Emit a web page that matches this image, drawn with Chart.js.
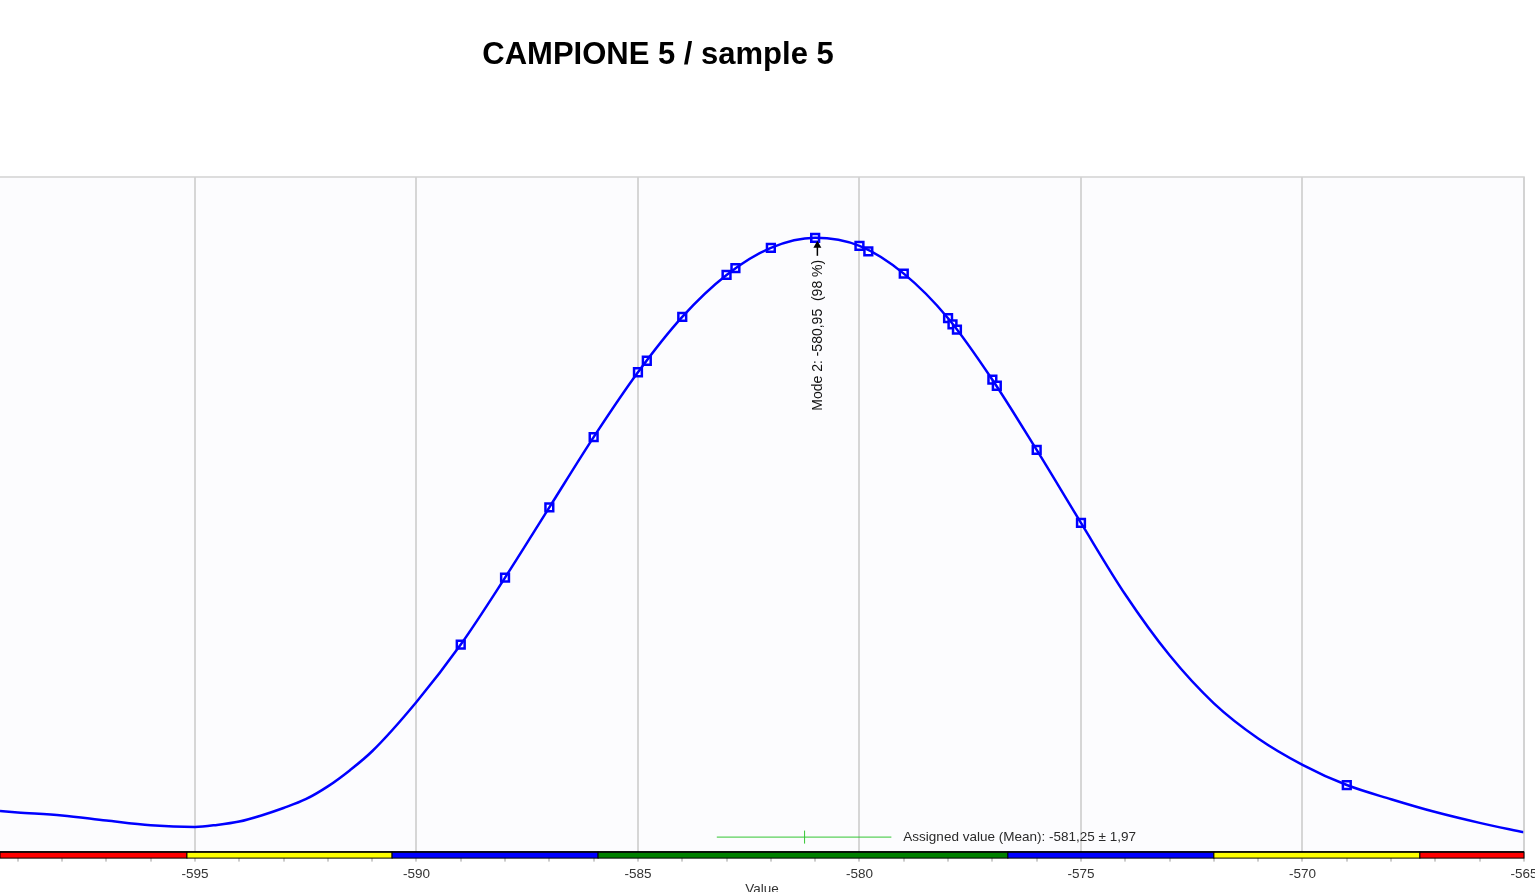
<!DOCTYPE html>
<html><head><meta charset="utf-8">
<script src="https://cdn.jsdelivr.net/npm/chart.js@4.4.0/dist/chart.umd.min.js"></script>
<style>
html,body{margin:0;padding:0;background:#fff;overflow:hidden;width:1535px;height:892px;}
#wrap{position:absolute;left:-8px;top:0;width:1558px;height:897px;}
</style></head><body>
<div id="wrap"><canvas id="c" width="1558" height="897"></canvas></div>
<script>
const titleText = 'CAMPIONE 5 / sample 5';
const axisTitle = 'Value';

const curveX = [-599.4,-599,-598,-597,-596,-595,-594.5,-594,-593.5,-593,-592.5,-592,-591.5,-591,-590,-589,-588,-587,-586,-585,-584,-583,-582,-581,-580,-579,-578,-577,-576,-575,-574,-573,-572,-571,-570,-569,-568,-567,-566,-565];
const curveY = [6.15,5.95,5.5,4.75,4.05,3.8,4.1,4.6,5.5,6.6,7.9,9.8,12.2,15.0,22.3,30.8,40.7,51.1,61.5,71.1,79.3,85.5,89.5,91.0,89.8,85.7,79.1,70.0,59.6,48.8,38.2,29.2,22.1,16.9,13.0,10.0,7.9,6.0,4.4,3.0];

const sampleX = [-589,-588,-587,-586,-585,-584.8,-584,-583,-582.8,-582,-581,-580,-579.8,-579,-578,-577.9,-577.8,-577,-576.9,-576,-575,-569];
const sampleY = [30.8,40.7,51.1,61.5,71.1,72.8,79.3,85.5,86.5,89.5,91.0,89.8,89.0,85.7,79.1,78.2,77.4,70.0,69.1,59.6,48.8,10.0];

const majorTicks = [-595,-590,-585,-580,-575,-570,-565];
const xMin = -599.4, xMax = -565;

const bandEdges = [-599.4,-595.18,-590.55,-585.9,-576.65,-572.0,-567.35,-565];
const bandColors = ['#ff0000','#ffff00','#0000ff','#008000','#0000ff','#ffff00','#ff0000'];

const assignedValue = -581.25, assignedUnc = 1.97;
const assignedLabel = 'Assigned value (Mean): -581,25 \u00b1 1,97';
const modeValue = -580.95, modePeak = 91.0;
const modeLabel = 'Mode 2: -580,95  (98 %)';

const FONT = 'Arial, "Liberation Sans", sans-serif';
Chart.defaults.font.family = FONT;

const decor = {
  id: 'decor',
  beforeDraw(chart) {
    const {ctx, chartArea: a} = chart;
    ctx.save();
    ctx.fillStyle = '#fcfcfe';
    ctx.fillRect(a.left, a.top, a.right - a.left, a.bottom - a.top);
    ctx.restore();
  },
  afterDatasetsDraw(chart) {
    const {ctx, chartArea: a, scales} = chart;
    const xs = scales.x, ys = scales.y;
    ctx.save();
    ctx.strokeStyle = '#d2d2d2';
    ctx.lineWidth = 1.5;
    ctx.beginPath();
    ctx.moveTo(a.left - 10, a.top); ctx.lineTo(a.right, a.top); ctx.lineTo(a.right, a.bottom);
    ctx.stroke();

    const ay = a.bottom - 16;
    const x0 = xs.getPixelForValue(assignedValue - assignedUnc);
    const x1 = xs.getPixelForValue(assignedValue + assignedUnc);
    const xm = xs.getPixelForValue(assignedValue);
    ctx.strokeStyle = '#33c633';
    ctx.lineWidth = 1;
    ctx.beginPath();
    ctx.moveTo(x0, ay + 0.5); ctx.lineTo(x1, ay + 0.5);
    ctx.moveTo(xm + 0.5, ay - 6); ctx.lineTo(xm + 0.5, ay + 7);
    ctx.stroke();
    ctx.fillStyle = '#2a2a2a';
    ctx.font = '13.5px ' + FONT;
    ctx.textAlign = 'left';
    ctx.textBaseline = 'middle';
    ctx.fillText(assignedLabel, x1 + 12, ay + 1);

    const mx = xs.getPixelForValue(modeValue);
    const my = ys.getPixelForValue(modePeak);
    ctx.strokeStyle = '#000';
    ctx.fillStyle = '#000';
    ctx.lineWidth = 1.5;
    ctx.beginPath();
    ctx.moveTo(mx, my + 5); ctx.lineTo(mx, my + 18);
    ctx.stroke();
    ctx.beginPath();
    ctx.moveTo(mx, my + 3); ctx.lineTo(mx - 4, my + 10); ctx.lineTo(mx + 4, my + 10); ctx.closePath();
    ctx.fill();
    ctx.translate(mx, my + 22);
    ctx.rotate(-Math.PI / 2);
    ctx.font = '14px ' + FONT;
    ctx.textAlign = 'right';
    ctx.textBaseline = 'middle';
    ctx.fillStyle = '#111';
    ctx.fillText(modeLabel, 0, 1);
    ctx.restore();
  },
  afterDraw(chart) {
    const {ctx, chartArea: a, scales} = chart;
    const xs = scales.x;
    ctx.save();
    const top = a.bottom - 0.5, h = 6;
    for (let i = 0; i < bandColors.length; i++) {
      const l = xs.getPixelForValue(bandEdges[i]);
      const r = xs.getPixelForValue(bandEdges[i + 1]);
      ctx.fillStyle = bandColors[i];
      ctx.fillRect(l, top, r - l, h);
      ctx.strokeStyle = '#000';
      ctx.lineWidth = 1;
      ctx.strokeRect(l, top, r - l, h);
    }
    ctx.fillStyle = '#000';
    ctx.fillRect(a.left, top - 1, a.right - a.left, 1.5);
    ctx.fillStyle = '#000';
    ctx.font = 'bold 31px ' + FONT;
    ctx.textAlign = 'center';
    ctx.textBaseline = 'alphabetic';
    ctx.fillText(titleText, 666, 64);
    ctx.restore();
  }
};

new Chart(document.getElementById('c'), {
  type: 'scatter',
  data: {
    datasets: [
      {
        label: 'density',
        data: curveX.map((x, i) => ({x: x, y: curveY[i]})),
        showLine: true,
        borderColor: '#0000ff',
        borderWidth: 2.5,
        pointRadius: 0,
        cubicInterpolationMode: 'monotone',
        fill: false
      },
      {
        label: 'samples',
        data: sampleX.map((x, i) => ({x: x, y: sampleY[i]})),
        showLine: false,
        pointStyle: 'rect',
        pointRadius: 5.5,
        pointBorderWidth: 2.5,
        pointBorderColor: '#0000ff',
        pointBackgroundColor: '#ffffff',
        borderColor: '#0000ff',
        backgroundColor: '#ffffff'
      }
    ]
  },
  options: {
    responsive: false,
    animation: false,
    layout: {padding: {left: 0, right: 26, top: 177, bottom: 0}},
    plugins: {legend: {display: false}, tooltip: {enabled: false}, title: {display: false}},
    scales: {
      x: {
        type: 'linear',
        min: xMin, max: xMax,
        afterBuildTicks(scale) {
          const t = [];
          for (let v = Math.ceil(xMin); v <= xMax; v++) t.push({value: v});
          scale.ticks = t;
        },
        ticks: {
          autoSkip: false, maxRotation: 0, padding: 5,
          color: '#333',
          font: {size: 13.5},
          callback: (v) => majorTicks.includes(v) ? String(v) : ''
        },
        grid: {
          color: (c) => (c.tick && majorTicks.includes(c.tick.value)) ? '#d6d6d6' : 'rgba(0,0,0,0)',
          lineWidth: 2,
          tickColor: '#9a9a9a',
          tickWidth: 1,
          tickLength: 9
        },
        border: {display: false},
        title: {display: true, text: axisTitle, color: '#333', font: {size: 13.5}, padding: {top: -7, bottom: 0}}
      },
      y: {display: false, min: 0, max: 100}
    }
  },
  plugins: [decor]
});
</script>
</body></html>
